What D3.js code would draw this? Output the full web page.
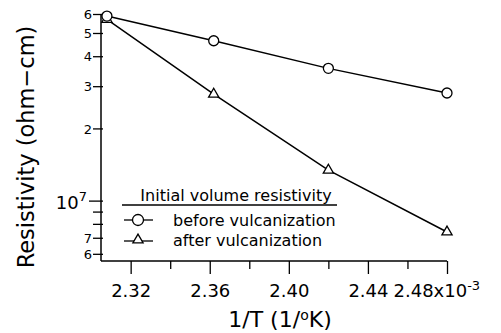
<!DOCTYPE html>
<html><head><meta charset="utf-8">
<script src="https://cdn.jsdelivr.net/npm/d3@7"></script>
<style>body{margin:0;background:#fff}svg{display:block}text{font-family:"DejaVu Sans",sans-serif;fill:#000}</style>
</head><body><svg id="c" width="501" height="333"></svg>
<script>
const xValues = [2.308, 2.362, 2.42, 2.48];
const beforeValues = [5.88e7, 4.64e7, 3.56e7, 2.81e7];
const afterValues = [5.7e7, 2.78e7, 1.34e7, 7.4e6];
const xTicks = [2.32, 2.34, 2.36, 2.38, 2.40, 2.42, 2.44, 2.46, 2.48];
const xMajor = [2.32, 2.36, 2.40, 2.44, 2.48];
const yTicks = [6e6, 7e6, 8e6, 9e6, 1e7, 2e7, 3e7, 4e7, 5e7, 6e7];
const seriesNames = ["before vulcanization", "after vulcanization"];
const legendTitle = "Initial volume resistivity";

const svg = d3.select("#c");
const x = d3.scaleLinear().domain([2.305, 2.48]).range([101, 447]);
const y = d3.scaleLog().domain([5.6e6, 6e7]).range([261, 14]);

const isMajor = v => xMajor.some(m => Math.abs(m - v) < 1e-9);
// X axis
const gx = svg.append("g").attr("transform", `translate(0,${y.range()[0]})`)
  .call(d3.axisBottom(x).tickValues(xTicks).tickSizeOuter(0).tickPadding(3)
    .tickFormat(d => isMajor(d) ? d.toFixed(2) : ""));
gx.select(".domain").attr("stroke", "#000").attr("stroke-width", 1.5).attr("d", `M${x.range()[0]},0H${x.range()[1]}`);
gx.selectAll(".tick line").attr("stroke", "#000").attr("stroke-width", 1.3).attr("y2", d => isMajor(d) ? 13 : 8);
gx.selectAll(".tick text").attr("font-size", 18).attr("y", 36).attr("dy", null)
  .attr("font-family", "DejaVu Sans");
gx.selectAll(".tick text").filter(d => Math.abs(d - 2.48) < 1e-9).each(function(d){
  const t = d3.select(this); t.text(null).attr("text-anchor", "start").attr("x", -54);
  t.append("tspan").text(d.toFixed(2) + "x10");
  t.append("tspan").attr("dy", "-0.55em").attr("font-size", 13).text("-3");
});

// Y axis
const isDecade = v => Math.abs(Math.log10(v) - Math.round(Math.log10(v))) < 1e-9;
const gy = svg.append("g").attr("transform", `translate(${x.range()[0]},0)`)
  .call(d3.axisLeft(y).tickValues(yTicks).tickSizeOuter(0).tickPadding(2)
    .tickFormat(d => (d === 8e6 || d === 9e6) ? "" : (isDecade(d) ? "" : String(Math.round(d / Math.pow(10, Math.floor(Math.log10(d))))))));
gy.select(".domain").attr("stroke", "#000").attr("stroke-width", 1.5).attr("d", `M0,${y.range()[0]}V${y.range()[1]}`);
gy.selectAll(".tick line").attr("stroke", "#000").attr("stroke-width", 1.3)
  .attr("x1", 2).attr("x2", d => isDecade(d) ? -12 : -8);
gy.selectAll(".tick text").attr("font-size", 13).attr("x", -9).attr("dy", "0.36em");
gy.selectAll(".tick text").filter(d => isDecade(d)).each(function(d){
  const t = d3.select(this); t.attr("font-size", 18).attr("x", -14).attr("dy", "0.45em");
  t.append("tspan").text("10");
  t.append("tspan").attr("dy", "-0.6em").attr("font-size", 13).text(String(Math.round(Math.log10(d))));
});

// Axis titles
svg.append("text").attr("transform", `translate(34,147) rotate(-90)`)
  .attr("text-anchor", "middle").attr("font-size", 22.5).attr("font-family", "Liberation Sans, Arial, sans-serif")
  .text("Resistivity (ohm\u2212cm)");
const xt = svg.append("text").attr("x", 280).attr("y", 327).attr("text-anchor", "middle")
  .attr("font-size", 22).attr("font-family", "Liberation Sans, Arial, sans-serif");
xt.append("tspan").text("1/T (1/");
xt.append("tspan").attr("dy", -7).attr("font-size", 14).text("o");
xt.append("tspan").attr("dy", 7).text("K)");

// Series
const line = d3.line().x((d, i) => x(xValues[i])).y(d => y(d));
svg.append("path").datum(beforeValues).attr("d", line).attr("fill", "none").attr("stroke", "#000").attr("stroke-width", 1.5);
svg.append("path").datum(afterValues).attr("d", line).attr("fill", "none").attr("stroke", "#000").attr("stroke-width", 1.5);
const tri = d3.symbol().type(d3.symbolTriangle).size(45);
svg.append("g").selectAll("path").data(afterValues).join("path")
  .attr("transform", (d, i) => `translate(${x(xValues[i])},${y(d)})`).attr("d", tri)
  .attr("fill", "#fff").attr("stroke", "#000").attr("stroke-width", 1.3);
svg.append("g").selectAll("circle").data(beforeValues).join("circle")
  .attr("cx", (d, i) => x(xValues[i])).attr("cy", d => y(d)).attr("r", 5)
  .attr("fill", "#fff").attr("stroke", "#000").attr("stroke-width", 1.3);

// Legend
const lg = svg.append("g");
lg.append("text").attr("x", 236).attr("y", 201).attr("text-anchor", "middle").attr("font-size", 16).text(legendTitle);
lg.append("line").attr("x1", 122).attr("x2", 337).attr("y1", 205).attr("y2", 205).attr("stroke", "#000").attr("stroke-width", 1.3);
lg.append("line").attr("x1", 124).attr("x2", 153).attr("y1", 220).attr("y2", 220).attr("stroke", "#000").attr("stroke-width", 1.3);
lg.append("circle").attr("cx", 138).attr("cy", 220).attr("r", 5.5).attr("fill", "#fff").attr("stroke", "#000").attr("stroke-width", 1.3);
lg.append("text").attr("x", 173).attr("y", 226).attr("font-size", 16).text(seriesNames[0]);
lg.append("line").attr("x1", 124).attr("x2", 153).attr("y1", 241).attr("y2", 241).attr("stroke", "#000").attr("stroke-width", 1.3);
lg.append("path").attr("transform", "translate(138,240)").attr("d", tri).attr("fill", "#fff").attr("stroke", "#000").attr("stroke-width", 1.3);
lg.append("text").attr("x", 173).attr("y", 246).attr("font-size", 16).text(seriesNames[1]);
</script></body></html>
